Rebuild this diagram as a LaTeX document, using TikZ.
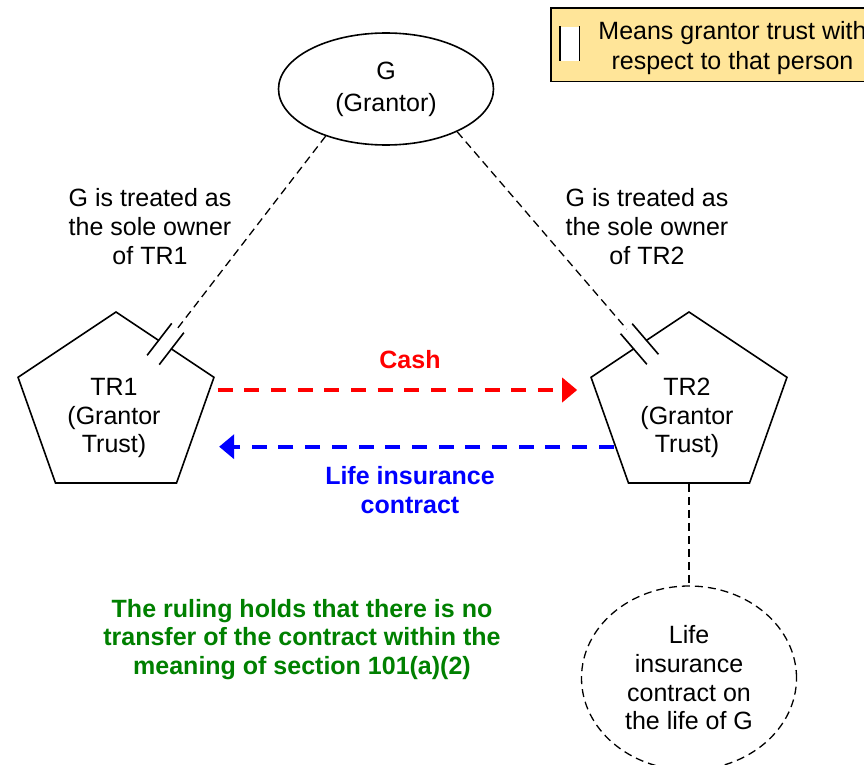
\documentclass[tikz,border=0pt]{standalone}
\usepackage{fontspec}
\setmainfont{Liberation Sans}
\usetikzlibrary{arrows.meta,shapes.geometric,calc}

\definecolor{keyfill}{HTML}{FFE599}
\definecolor{rulegreen}{HTML}{008000}
\newcommand\gapbars[1]{\draw[bar] (#1.north west) -- (#1.north east) (#1.south west) -- (#1.south east);}

\begin{document}
\begin{tikzpicture}[x=1pt,y=-1pt,
  every node/.style={font=\fontsize{25}{28.7}\selectfont,align=center,inner sep=0pt},
  boldtxt/.style={font=\fontsize{25}{28.7}\selectfont\bfseries},
  trust/.style={draw,regular polygon,regular polygon sides=5,minimum size=189pt,line width=1.6pt,xscale=1.09},
  conn/.style={line width=1.3pt,dash pattern=on 8pt off 5pt},
  gapmark/.style={rectangle,fill=white,minimum width=39pt,minimum height=14pt},
  bar/.style={line width=1.6pt},
  flow/.style={line width=4pt,dash pattern=on 15pt off 11.7pt,-{Triangle[length=15pt,width=24pt]}}]

  \path[use as bounding box,clip] (0,0) rectangle (864,765);

  % legend
  \node[draw,fill=keyfill,line width=1.6pt,minimum width=363pt,minimum height=73.4pt] (key) at (732.5,45) {};
  \node[font=\fontsize{25}{30}\selectfont] (keytxt) at (732.5,48.5) {Means grantor trust with\\respect to that person};
  \node[gapmark,rotate=90,minimum width=34pt,minimum height=19pt] (keymark) at (569.7,43.7) {};
  \gapbars{keymark}

  \node[draw,ellipse,minimum width=215pt,minimum height=112pt,line width=1.6pt,font=\fontsize{25}{32}\selectfont] (g) at (386,89) {G\\(Grantor)};

  \node[trust] (tr1) at (116,406.5) {};
  \node (tr1txt) at (114,418) {TR1\\(Grantor\\Trust)};
  \node[trust] (tr2) at (689,406.5) {};
  \node (tr2txt) at (687,418) {TR2\\(Grantor\\Trust)};

  \node[draw,conn,ellipse,minimum width=215pt,minimum height=184pt] (life) at (689,678) {Life\\insurance\\contract on\\the life of G};

  \node (own1) at (150,226.5) {G is treated as\\the sole owner\\of TR1};
  \node (own2) at (647,226.5) {G is treated as\\the sole owner\\of TR2};

  \coordinate (m1) at ($(tr1.corner 1)!0.5!(tr1.corner 5)$);
  \coordinate (m2) at ($(tr2.corner 1)!0.5!(tr2.corner 2)$);
  \draw[conn] (g.218) -- (m1) node[gapmark,sloped,pos=1] (k1) {};
  \draw[conn] (g.-31) -- (m2) node[gapmark,sloped,pos=1] (k2) {};
  \gapbars{k1}
  \gapbars{k2}

  \draw[conn] (tr2.south) -- (life.north);

  \draw[flow,red] ([xshift=13pt,yshift=16.5pt]tr1.east) -- ([xshift=-23.3pt,yshift=16.5pt]tr2.west);
  \draw[flow,blue] ([xshift=13.4pt,yshift=-40.2pt]tr2.west) -- ([xshift=14.6pt,yshift=-40.2pt]tr1.east);

  \node[boldtxt,red] (cash) at (410,360) {Cash};
  \node[boldtxt,blue] (lic) at (410,490) {Life insurance\\contract};
  \node[boldtxt,rulegreen] (ruling) at (302,639.5) {The ruling holds that there is no\\transfer of the contract within the\\meaning of section 101(a)(2)};

\end{tikzpicture}
\end{document}
